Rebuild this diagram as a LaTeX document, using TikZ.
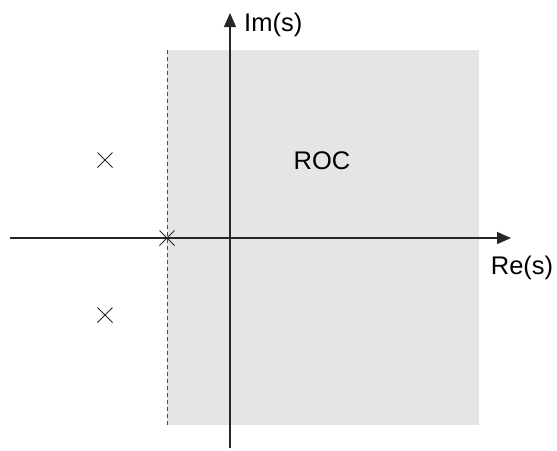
\documentclass[tikz,border=0pt]{standalone}
\usepackage{fontspec}
\setmainfont{Liberation Sans}
\usetikzlibrary{arrows.meta,shapes.misc}
\begin{document}
\begin{tikzpicture}[x=1pt,y=-1pt,
  axis/.style={line width=1.3pt,draw=black!85,-{Triangle[length=14pt,width=12pt]}},
  pole/.style={cross out,draw=black!85,line width=1pt,minimum size=14pt,inner sep=0pt},
  lbl/.style={font=\fontsize{25.5}{30}\selectfont,inner sep=0pt}]
\useasboundingbox (0,0) rectangle (557,450);
\fill[black!10] (167,50) rectangle (479,425);
\coordinate (dtop) at (167,50);
\coordinate (dbot) at (167,425);
\draw[black!70,line width=0.9pt,dash pattern=on 4pt off 3pt] (dtop) -- (dbot);
\coordinate (xl) at (10,238);
\coordinate (xr) at (511,238);
\coordinate (yb) at (230,448);
\coordinate (yt) at (230,13);
\draw[axis] (xl) -- (xr);
\draw[axis] (yb) -- (yt);
\node[pole] (p1) at (105,160) {};
\node[pole] (p2) at (105,315) {};
\node[pole] (p3) at (167,238) {};
\node[lbl,anchor=west] (im) at (244,25) {Im(s)};
\node[lbl] (re) at (522,268) {Re(s)};
\node[lbl] (roc) at (322,161) {ROC};
\end{tikzpicture}
\end{document}
